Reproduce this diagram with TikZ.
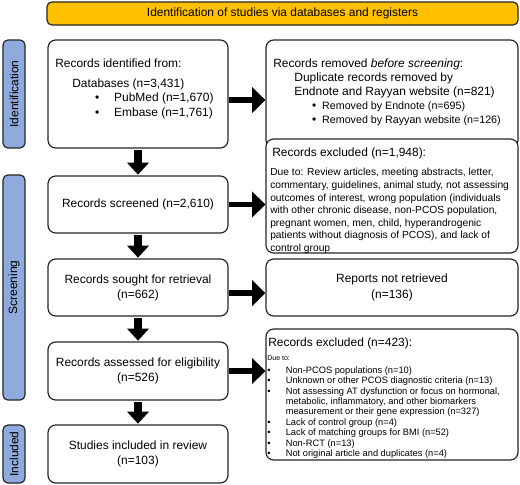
\documentclass[tikz,border=0pt]{standalone}
\usepackage{fontspec}
\setmainfont{Liberation Sans}
\usetikzlibrary{arrows.meta}
\definecolor{mGold}{HTML}{FFC000}
\definecolor{mBlue}{HTML}{8FAADC}
\colorlet{mLine}{black!85}
\newcommand{\bul}[3]{\hspace*{#1}\makebox[#2][l]{\textbullet}#3}

\begin{document}
\begin{tikzpicture}[x=0.025cm, y=-0.025cm,
  box/.style={draw=mLine, line width=0.85pt, rounded corners=5.5pt, fill=white,
    minimum width=4.5cm, minimum height=1.425cm, inner sep=0pt, align=center,
    font=\fontsize{8.5}{10.7}\selectfont},
  stage/.style={draw=mLine, line width=0.85pt, rounded corners=3.5pt, fill=mBlue,
    rotate=90, minimum height=0.55cm, inner sep=0pt, font=\fontsize{8.5}{10}\selectfont},
  txt/.style={anchor=north west, inner sep=0pt, align=left, font=\fontsize{8.5}{10.3}\selectfont},
  vflow/.style={line width=5pt, shorten <=1pt, shorten >=0.5pt, -{Triangle[length=0.3cm, width=0.53cm]}},
  hflow/.style={line width=4.2pt, -{Triangle[length=0.33cm, width=0.63cm]}},
]
  \useasboundingbox (0,0) rectangle (520,485);

  \node[box, fill=mGold, minimum width=11.775cm, minimum height=0.575cm, rounded corners=3.5pt]
    (banner) at (282.5,13.5) {Identification of studies via databases and registers};

  % stage bars on the left
  \node[stage, minimum width=2.7cm] (idbar) at (14,94) {Identification};
  \node[stage, minimum width=5.625cm] (scrbar) at (14,287.5) {Screening};
  \node[stage, minimum width=1.45cm] (incbar) at (14,454) {Included};

  % main column
  \node[box, minimum height=2.7cm] (ident) at (138,94) {};
  \node[txt] (identtext) at (55,58.5)
    {Records identified from:\\[3.9pt]
     \hspace*{12.1pt}Databases (n=3,431)\\
     \bul{28.4pt}{13.5pt}{PubMed (n=1,670)}\\
     \bul{28.4pt}{13.5pt}{Embase (n=1,761)}};
  \node[box] (screened) at (138,204.5) {Records screened (n=2,610)};
  \node[box] (sought) at (138,287.5) {Records sought for retrieval\\(n=662)};
  \node[box, minimum height=1.45cm] (assessed) at (138,371) {Records assessed for eligibility\\(n=526)};
  \node[box, minimum height=1.45cm] (included) at (138,454) {Studies included in review\\(n=103)};

  % side column
  \node[box, minimum width=6.3cm, minimum height=2.7cm] (removed) at (392,94) {};
  \node[txt, font=\fontsize{8.5}{10}\selectfont] (removedtext) at (273,58.5)
    {Records removed \textit{before screening}:\\
     \hspace*{15pt}Duplicate records removed by\\
     \hspace*{15pt}Endnote and Rayyan website (n=821)\\
     \bul{27.7pt}{7.1pt}{\fontsize{7.6}{10}\selectfont Removed by Endnote (n=695)}\\
     \bul{27.7pt}{7.1pt}{\fontsize{7.6}{10}\selectfont Removed by Rayyan website (n=126)}};

  \node[box, minimum width=6.3cm, minimum height=2.85cm] (excl1) at (392,196) {};
  \node[txt] (excl1head) at (272,147.7) {Records excluded (n=1,948):};
  \node[txt, font=\fontsize{7.3}{9}\selectfont] (excl1text) at (270,168)
    {Due to: Review articles, meeting abstracts, letter,\\
     commentary, guidelines, animal study, not assessing\\
     outcomes of interest, wrong population (individuals\\
     with other chronic disease, non-PCOS population,\\
     pregnant women, men, child, hyperandrogenic\\
     patients without diagnosis of PCOS), and lack of\\
     control group};

  \node[box, minimum width=6.3cm, font=\fontsize{8.5}{11.4}\selectfont] (notret) at (392,287.5)
    {Reports not retrieved\\(n=136)};

  \node[box, minimum width=6.3cm, minimum height=3.275cm] (excl2) at (392,394.5) {};
  \node[txt] (excl2head) at (268,337.7) {Records excluded (n=423):};
  \node[txt, font=\fontsize{6.6}{7.4}\selectfont] (excl2text) at (267,355.4)
    {{\fontsize{5}{6}\selectfont Due to:}\\[1.7pt]
     \bul{0pt}{13.2pt}{Non-PCOS populations (n=10)}\\
     \bul{0pt}{13.2pt}{Unknown or other PCOS diagnostic criteria (n=13)}\\
     \bul{0pt}{13.2pt}{Not assessing AT dysfunction or focus on hormonal,}\\
     \hspace*{13.2pt}metabolic, inflammatory, and other biomarkers\\
     \hspace*{13.2pt}measurement or their gene expression (n=327)\\
     \bul{0pt}{13.2pt}{Lack of control group (n=4)}\\
     \bul{0pt}{13.2pt}{Lack of matching groups for BMI (n=52)}\\
     \bul{0pt}{13.2pt}{Non-RCT (n=13)}\\
     \bul{0pt}{13.2pt}{Not original article and duplicates (n=4)}};

  % flow arrows
  \draw[vflow] (ident.south) -- (screened.north);
  \draw[vflow] (screened.south) -- (sought.north);
  \draw[vflow] (sought.south) -- (assessed.north);
  \draw[vflow] (assessed.south) -- (included.north);
  \draw[hflow] ([yshift=-4.3pt]ident.east) -- ([yshift=-4.3pt]removed.west);
  \draw[hflow] (screened.east) -- (screened.east -| excl1.west);
  \draw[hflow] ([yshift=-4pt]sought.east) -- ([yshift=-4pt]notret.west);
  \draw[hflow] (assessed.east) -- (assessed.east -| excl2.west);
\end{tikzpicture}
\end{document}
